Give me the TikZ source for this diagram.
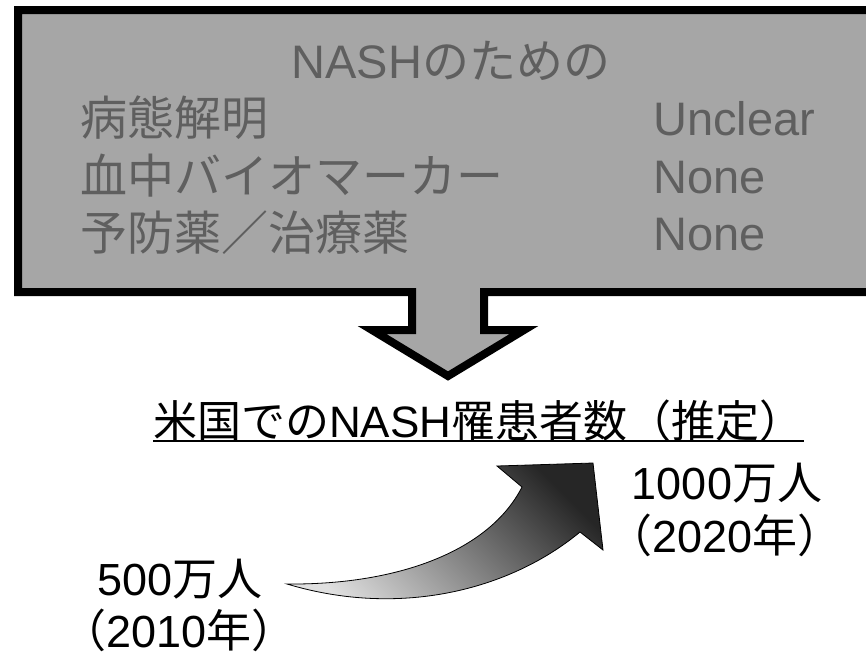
\documentclass[tikz,border=0pt]{standalone}
\usepackage{fontspec}
\setmainfont{Liberation Sans}
\newfontfamily\jp{Noto Sans CJK JP}
\definecolor{boxfill}{HTML}{A6A6A6}
\definecolor{boxtext}{HTML}{5F5F5F}
\begin{document}
\begin{tikzpicture}[x=1pt,y=-1pt,
  boxtxt/.style={inner sep=0pt, text=boxtext, font=\fontsize{47}{56}\selectfont, anchor=base west},
  btxt/.style={inner sep=0pt, text=black, font=\fontsize{45}{54}\selectfont, anchor=base},
  frame/.style={line width=8pt, draw=black, fill=boxfill, miter limit=20},
  growth/.style={draw=black, line width=0.8pt, top color=black!85, bottom color=black!12, shading angle=-45}
]
\useasboundingbox (0,0) rectangle (866,657);
\clip (0,0) rectangle (866,657);
\fill[white] (0,0) rectangle (866,657);
% box with block arrow
\path[frame] (890,10) -- (18,10) -- (18,292) -- (412,292) -- (412,330) -- (372,330)
  -- (448,376) -- (524,330) -- (484,330) -- (484,292) -- (890,292);
% box texts
\node[boxtxt, anchor=base] (title) at (451,78) {NASH{\jp のための}};
\node[boxtxt] (r1) at (80,135) {\jp 病態解明};
\node[boxtxt] (r2) at (80,193) {\jp 血中バイオマーカー};
\node[boxtxt] (r3) at (80,250) {\jp 予防薬／治療薬};
\node[boxtxt] (v1) at (653,135) {Unclear};
\node[boxtxt] (v2) at (653,193) {None};
\node[boxtxt] (v3) at (653,250) {None};
% heading
\node[inner sep=0pt, anchor=base west, font=\fontsize{44}{52}\selectfont] (head) at (153,437)
  {{\jp 米国での}NASH{\jp 罹患者数（推定）}};
\draw[line width=2.5pt] ([yshift=-4pt]head.base west) -- ([yshift=-4pt]head.base east);
% growth arrow
\path[growth] (287,584) .. controls (400,585) and (490,550) .. (522,487) -- (497,466) -- (593,463)
  -- (603,550) -- (580,532) .. controls (510,590) and (400,618) .. cycle;
% labels
\node[btxt] (n1) at (727,499) {1000{\jp 万人}};
\node[btxt] (y1) at (725,552) {{\jp （}2020{\jp 年）}};
\node[btxt] (n0) at (180,595) {500{\jp 万人}};
\node[btxt] (y0) at (179,647) {{\jp （}2010{\jp 年）}};
\end{tikzpicture}
\end{document}
